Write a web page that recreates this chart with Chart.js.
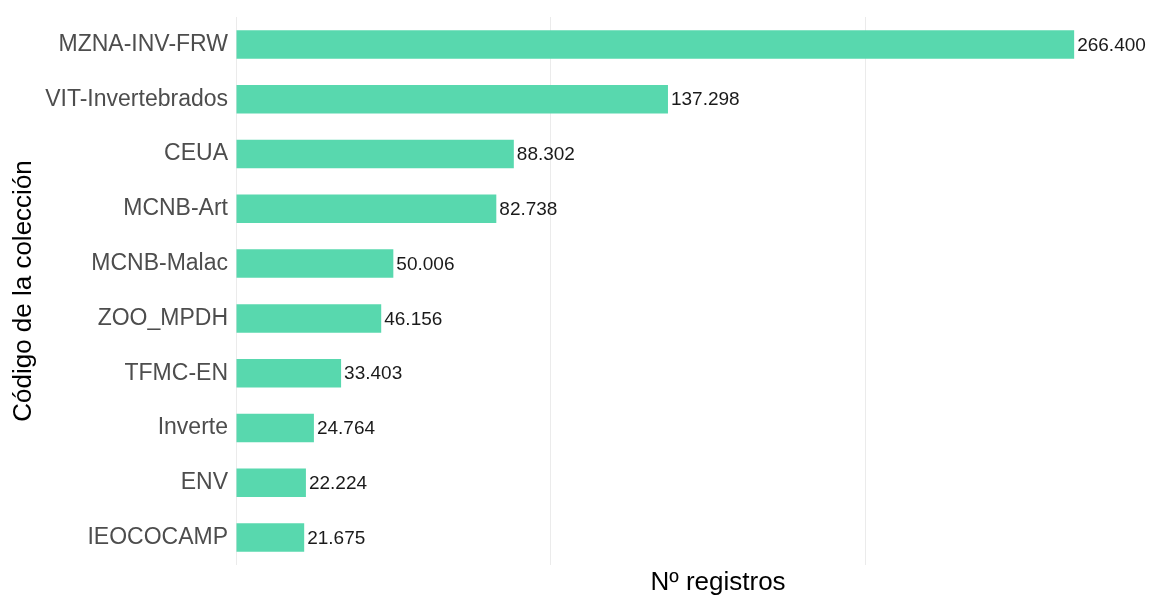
<!DOCTYPE html>
<html>
<head>
<meta charset="utf-8">
<script src="https://cdn.jsdelivr.net/npm/chart.js@4/dist/chart.umd.min.js"></script>
<style>
  html, body { margin: 0; padding: 0; background: #fff; overflow: hidden; }
  #wrap { width: 1200px; height: 596px; }
</style>
</head>
<body>
<div id="wrap"><canvas id="chart-colecciones" width="1200" height="596"></canvas></div>
<script>
// datos de la figura
const colecciones = ['MZNA-INV-FRW', 'VIT-Invertebrados', 'CEUA', 'MCNB-Art', 'MCNB-Malac',
  'ZOO_MPDH', 'TFMC-EN', 'Inverte', 'ENV', 'IEOCOCAMP'];
const registros = [266400, 137298, 88302, 82738, 50006, 46156, 33403, 24764, 22224, 21675];
const gridValues = [0, 100000, 200000, 300000];

const FONT = '"Liberation Sans", Arial, Helvetica, sans-serif';

// 266400 -> "266.400"
function fmtNum(v) {
  return String(v).replace(/\B(?=(\d{3})+(?!\d))/g, '.');
}

// etiquetas al final de cada barra
const valueLabels = {
  id: 'valueLabels',
  afterDatasetsDraw(chart) {
    const ctx = chart.ctx;
    const meta = chart.getDatasetMeta(0);
    ctx.save();
    ctx.font = '19px ' + FONT;
    ctx.fillStyle = '#1a1a1a';
    ctx.textAlign = 'left';
    ctx.textBaseline = 'middle';
    meta.data.forEach((bar, i) => {
      ctx.fillText(fmtNum(registros[i]), bar.x + 3, bar.y + 1);
    });
    ctx.restore();
  }
};

const ctx = document.getElementById('chart-colecciones').getContext('2d');
new Chart(ctx, {
  type: 'bar',
  data: {
    labels: colecciones,
    datasets: [{ data: registros, backgroundColor: '#58d8ae', borderWidth: 0, barPercentage: 0.52, categoryPercentage: 1 }]
  },
  options: {
    indexAxis: 'y',
    responsive: false,
    animation: false,
    layout: { padding: { top: 17, right: 0, bottom: 0, left: 0 } },
    plugins: { legend: { display: false }, tooltip: { enabled: false } },
    scales: {
      x: {
        min: 0, max: 306400,
        afterBuildTicks: s => { s.ticks = gridValues.map(v => ({ value: v })); },
        afterFit: s => { s.height = 31; s.paddingLeft = 0; s.paddingRight = 0; },
        ticks: { display: false },
        border: { display: false },
        grid: { color: '#ebebeb', lineWidth: 1, drawTicks: false },
        title: { display: true, text: 'Nº registros', color: '#000', font: { family: FONT, size: 26, lineHeight: 1 }, padding: { top: 0, bottom: 0 } }
      },
      y: {
        afterFit: s => { s.width = 236; s.paddingTop = 0; s.paddingBottom = 0; },
        grid: { display: false, drawTicks: false },
        border: { display: false },
        ticks: { color: '#4d4d4d', padding: 8, font: { family: FONT, size: 23 } },
        title: { display: true, text: 'Código de la colección', color: '#000', font: { family: FONT, size: 26 }, padding: { top: 8, bottom: 0 } }
      }
    }
  },
  plugins: [valueLabels]
});
</script>
</body>
</html>
